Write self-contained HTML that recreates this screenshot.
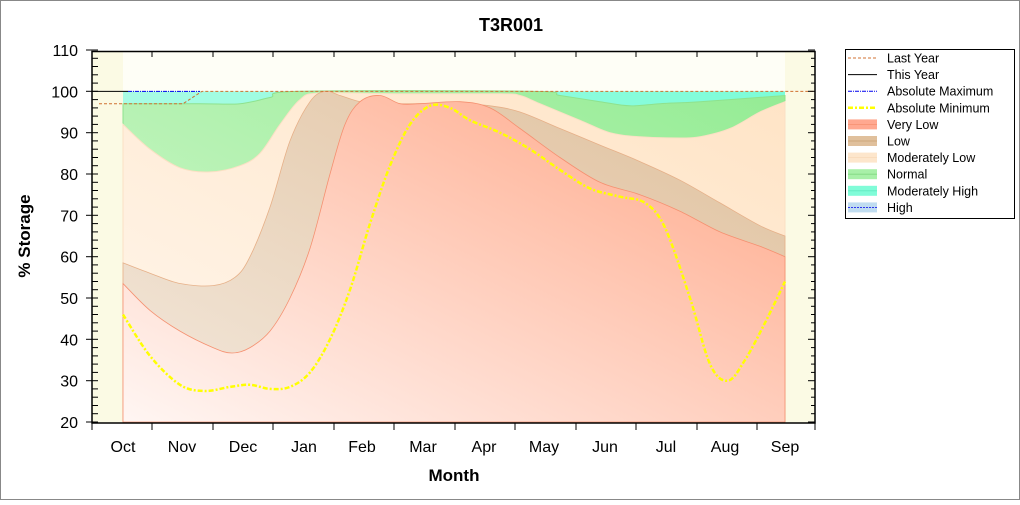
<!DOCTYPE html>
<html><head><meta charset="utf-8"><style>
body{margin:0;background:#fff}
svg text{font-family:"Liberation Sans",Arial,sans-serif}
</style></head><body>
<svg id="s" width="1020" height="500" xmlns="http://www.w3.org/2000/svg">
<defs>
<linearGradient id="vl" x1="0" y1="1" x2="1" y2="0"><stop offset="0" stop-color="#fff6f3"/><stop offset="1" stop-color="#ffa686"/></linearGradient>
<linearGradient id="lo" x1="0" y1="1" x2="1" y2="0"><stop offset="0" stop-color="#f3e8dc"/><stop offset="1" stop-color="#e0c09c"/></linearGradient>
<linearGradient id="ml" x1="0" y1="1" x2="1" y2="0"><stop offset="0" stop-color="#fff6ec"/><stop offset="1" stop-color="#ffe4c6"/></linearGradient>
<linearGradient id="nm" x1="0" y1="1" x2="1" y2="0"><stop offset="0" stop-color="#d6f8d0"/><stop offset="1" stop-color="#94ec94"/></linearGradient>
<linearGradient id="mh" x1="0" y1="0" x2="1" y2="0"><stop offset="0" stop-color="#a8fce4"/><stop offset="1" stop-color="#7cfcd8"/></linearGradient>
</defs>
<rect x="0.5" y="0.5" width="1019" height="499" fill="#fff" stroke="#888"/>
<rect x="92" y="51" width="723" height="372" fill="#fbfae4"/>
<rect x="123" y="51" width="662" height="372" fill="#fefef6"/>
<rect x="845.5" y="49.5" width="169" height="169" fill="#fff" stroke="#000"/>
<g id="g"></g>
<text x="511" y="31" font-size="18" font-weight="bold" text-anchor="middle">T3R001</text>
<text x="454" y="481" font-size="17" font-weight="bold" text-anchor="middle">Month</text>
<text transform="translate(30,236) rotate(-90)" font-size="17" font-weight="bold" text-anchor="middle">% Storage</text>
</svg>
<script>
const Y=v=>422-(v-20)*4.1333;
function cr(pts){let d='M'+pts[0][0]+','+Y(pts[0][1]);for(let i=0;i<pts.length-1;i++){const p0=pts[i-1]||pts[i],p1=pts[i],p2=pts[i+1],p3=pts[i+2]||p2;const a=[p1[0]+(p2[0]-p0[0])/6,Y(p1[1])+(Y(p2[1])-Y(p0[1]))/6],b=[p2[0]-(p3[0]-p1[0])/6,Y(p2[1])-(Y(p3[1])-Y(p1[1]))/6];d+=`C${a[0].toFixed(1)},${a[1].toFixed(1)} ${b[0].toFixed(1)},${b[1].toFixed(1)} ${p2[0]},${Y(p2[1]).toFixed(1)}`;}return d;}
const area=(pts)=>cr(pts)+`L785,422L123,422Z`;
const mhB=[[123,97],[200,97],[240,97],[270,98.5],[300,100],[530,100],[560,99],[600,97.5],[630,96.5],[660,97],[700,97.5],[785,99]];
const nmB=[[123,92],[150,86],[180,81.5],[210,80.5],[240,82],[260,85],[280,92],[300,98],[320,99.6],[400,99.4],[500,99.4],[520,99],[540,97],[580,93],[610,90],[640,89],[680,88.7],[700,89],[730,91],[760,95],[785,97.5]];
const loT=[[123,58.5],[150,56],[180,53.5],[213,53],[235,55],[250,60],[270,72],[290,88],[310,97.5],[325,100],[340,99],[360,97.5],[380,97],[420,97],[460,97],[490,96.5],[520,95],[560,91],[600,87],[640,83],[680,78.5],[720,73],[760,67.5],[785,65]];
const vlT=[[123,53.5],[150,47],[180,42],[213,38],[232,36.7],[250,38],[270,42],[290,50],[310,62],[330,80],[345,92],[360,97.5],[380,99],[400,97],[420,97],[460,97.5],[490,96],[520,91],[560,84],[600,78],[640,75],[680,71],[720,66],[760,62.5],[785,60]];
const mn=[[123,46],[150,36],[180,29],[205,27.5],[230,28.5],[250,29],[270,28],[290,28.5],[310,32],[330,40],[350,52],[370,68],[390,82],[410,92],[430,96.5],[450,96],[470,93],[500,90],[530,86],[560,81],[590,76.5],[620,74.5],[645,73],[665,67],[690,50],[710,34],[728,30],[745,35],[765,44],[785,54]];
let h='';
h+=`<rect x="123" y="${Y(100)}" width="662" height="${422-Y(100)}" fill="url(#mh)"/>`;
h+=`<path d="${area(mhB)}" fill="url(#nm)" stroke="#8ee28e"/>`;
h+=`<path d="${area(nmB)}" fill="url(#ml)" stroke="#fbe0c4"/>`;
h+=`<path d="${area(loT)}" fill="url(#lo)" stroke="#e6b088" stroke-width="0.8"/>`;
h+=`<path d="${area(vlT)}" fill="url(#vl)" stroke="#f59070" stroke-width="0.8"/>`;
h+=`<path d="${cr(mn)}" fill="none" stroke="#ffff00" stroke-width="2.5" stroke-dasharray="5,2,2,2"/>`;
h+=`<line x1="92" y1="${Y(100)}" x2="128" y2="${Y(100)}" stroke="#000"/>`;
h+=`<line x1="128" y1="${Y(100)}" x2="200" y2="${Y(100)}" stroke="#0000ee" stroke-dasharray="4,1,1,1"/>`;
h+=`<polyline points="99,${Y(97)} 178,${Y(97)} 183,${Y(97)} 202,${Y(100)} 815,${Y(100)}" fill="none" stroke="#d07030" stroke-dasharray="3,2"/>`;
h+=`<rect x="92" y="51.5" width="723" height="371.5" fill="none" stroke="#000" stroke-width="1.5"/>`;
for(let v=20;v<=110;v+=2){const y=Y(v).toFixed(1);const maj=v%10==0;h+=`<line x1="${maj?86:92}" y1="${y}" x2="98" y2="${y}" stroke="#000"/><line x1="${maj?808:811}" y1="${y}" x2="815" y2="${y}" stroke="#000"/>`;if(maj)h+=`<text x="78" y="${+y+6}" font-size="16" text-anchor="end">${v}</text>`;}
const tk=[92,152,213,273,334,394,455,515,576,636,697,757,815];
tk.forEach(x=>{h+=`<line x1="${x}" y1="423" x2="${x}" y2="430" stroke="#000"/><line x1="${x}" y1="51" x2="${x}" y2="57" stroke="#000"/>`;});
const ms=['Oct','Nov','Dec','Jan','Feb','Mar','Apr','May','Jun','Jul','Aug','Sep'],mx=[123,182,243,304,362,423,484,544,605,666,725,785];
ms.forEach((m,i)=>h+=`<text x="${mx[i]}" y="452" font-size="16" text-anchor="middle">${m}</text>`);
const L=[['Last Year','l','#d07030','3,2'],['This Year','l','#000',''],['Absolute Maximum','l','#0000ee','4,1,1,1'],['Absolute Minimum','y'],['Very Low','b','#ffa890','#f59070'],['Low','b','#e0c09c','#c8a070'],['Moderately Low','b','#fde6cc','#f8d8b8'],['Normal','b','#a8f0a8','#80d880'],['Moderately High','b','#80fcd8','#60e8c0'],['High','b','#c0dcf0','#0000ee']];
L.forEach((e,i)=>{const y=58+i*16.6;let s='';if(e[1]=='l')s=`<line x1="848" y1="${y}" x2="877" y2="${y}" stroke="${e[2]}" stroke-dasharray="${e[3]}"/>`;else if(e[1]=='y')s=`<line x1="848" y1="${y}" x2="877" y2="${y}" stroke="#ff0" stroke-width="2.5" stroke-dasharray="5,2,2,2"/>`;else s=`<rect x="848" y="${y-5}" width="29" height="10" fill="${e[2]}"/><line x1="848" y1="${y}" x2="877" y2="${y}" stroke="${e[3]}" stroke-width="0.8" ${i==9?'stroke-dasharray="2,1"':''}/>`;h+=s+`<text x="887" y="${y+4.5}" font-size="12.5">${e[0]}</text>`;});
document.getElementById('g').innerHTML=h;
</script>
</body></html>
